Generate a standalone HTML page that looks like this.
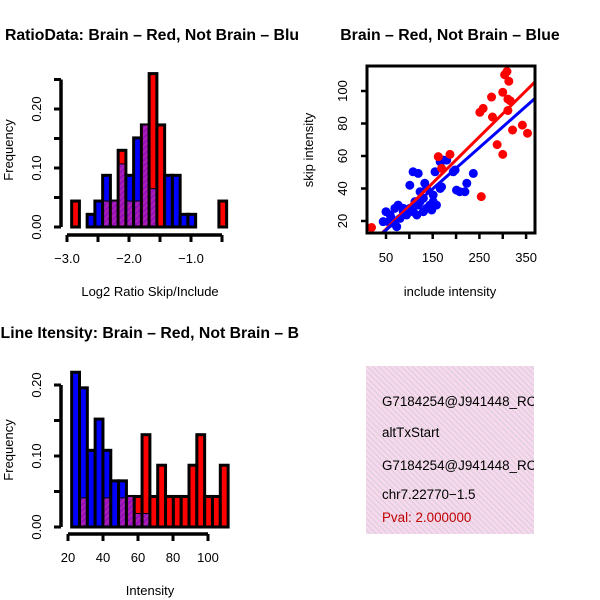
<!DOCTYPE html>
<html><head><meta charset="utf-8"><style>
html,body{margin:0;padding:0;background:#fff;}
svg{display:block;font-family:"Liberation Sans",sans-serif;}
</style></head><body>
<svg id="chart" width="600" height="600" viewBox="0 0 600 600">
<defs>
<pattern id="purp" patternUnits="userSpaceOnUse" width="4" height="4" patternTransform="rotate(45)">
<rect width="4" height="4" fill="#9010c0"/><rect width="2" height="4" fill="#b020b0"/>
</pattern>
<pattern id="pink" patternUnits="userSpaceOnUse" width="4" height="4" patternTransform="rotate(-45)">
<rect width="4" height="4" fill="#f7d8f0"/><rect width="1" height="4" fill="#d8d0d0"/>
</pattern>
<clipPath id="clipL"><rect x="0" y="0" width="300" height="600"/></clipPath>
<clipPath id="clipSc"><rect x="367" y="67" width="168" height="166"/></clipPath>
<clipPath id="clipTxt"><rect x="366" y="366" width="168" height="170"/></clipPath>
</defs>
<g id="h1"></g>
<g id="h2"></g>
<g id="sc"></g>
<g>
<rect x="366" y="366" width="168" height="168" fill="url(#pink)"/>
<g clip-path="url(#clipTxt)" font-size="13.4">
<text x="382" y="406">G7184254@J941448_RC</text>
<text x="382" y="437">altTxStart</text>
<text x="382" y="470">G7184254@J941448_RC</text>
<text x="382" y="499">chr7.22770−1.5</text>
<text x="382" y="522" fill="#c00000">Pval: 2.000000</text>
</g></g>
<g clip-path="url(#clipL)" font-weight="bold" font-size="15.8">
<text x="299" y="40" text-anchor="end">Log2 RatioData: Brain – Red, Not Brain – Blu</text>
<text x="299" y="338" text-anchor="end">Exon Line Itensity: Brain – Red, Not Brain – B</text>
</g>
<text x="450" y="40" text-anchor="middle" font-weight="bold" font-size="15.8">Brain – Red, Not Brain – Blue</text>
</svg>
<script>
// ---- Histogram 1 data (log2 ratio) ----
var h1BinStart = -2.925;
var h1BinWidth = 0.125;
var h1Blue = [0,0,0.0215,0.044,0.0876,0.044,0.107,0.0876,0.151,0.173,0.065,0,0.0876,0.0876,0.0215,0.0215,0,0,0,0];
var h1Red  = [0.044,0,0,0,0.044,0.044,0.13,0.044,0.044,0.173,0.26,0.173,0,0,0,0,0,0,0,0.044];
var h1XTicks = [-3.0,-2.5,-2.0,-1.5,-1.0,-0.5];
var h1XLabels = ["−3.0","","−2.0","","−1.0",""];
var h1YTicks = [0,0.05,0.10,0.15,0.20,0.25];
var h1YLabels = ["0.00","","0.10","","0.20",""];
// ---- Histogram 2 data (intensity) ----
var h2BinStart = 22.1;
var h2BinWidth = 4.47;
var h2Blue = [0.218,0.196,0.108,0.152,0.108,0.065,0.065,0.043,0.019,0.019,0,0,0,0,0,0,0,0,0,0];
var h2Red  = [0,0.041,0,0,0.041,0,0.041,0.043,0.043,0.13,0.043,0.087,0.043,0.043,0.043,0.087,0.13,0.043,0.043,0.087];
var h2XTicks = [20,40,60,80,100];
var h2YTicks = [0,0.05,0.10,0.15,0.20];
var h2YLabels = ["0.00","","0.10","","0.20"];
// ---- Scatter data ----
var redX = [19,162,187,169,251,258,278,276,304,309,300,313,311,316,311,321,342,353,288,300,254];
var redY = [16,59.6,61,52.4,86.9,89.3,84,96.3,110,112,99.2,106,95,94,88,76,79,74,67,61,35];
var blueX = [44,50,59,69,76,80,87,94,101,108,116,119,130,137,151,158,101,108,119,123,130,137,144,148,151,155,166,173,180,166,169,194,198,201,208,219,223,237,87,62,66,73,55,112,123,133];
var blueY = [19.6,25.7,23.7,27.8,29.8,21.6,25.7,23.7,27.8,25.7,23.7,29.8,25.7,27.8,31.9,29.8,42,50.3,49.3,31.9,34,40,29.8,26.8,36,50.3,56.5,57.5,57.5,40,41,50.3,51.4,39,38,38,43.2,49.3,27.8,21.6,18.6,16.5,19.6,31.9,38,43.2];
var redFit = [0.8, 0.284];
var blueFit = [1.7, 0.254];
var scXTicks = [50,150,250,350];
var scXMinor = [100,200,300];
var scYTicks = [20,40,60,80,100];

var NS="http://www.w3.org/2000/svg";
function mk(parent,tag,attrs){var e=document.createElementNS(NS,tag);for(var k in attrs)e.setAttribute(k,attrs[k]);parent.appendChild(e);return e;}

function histogram(g, cfg){
  var xs=cfg.xs, ys=cfg.ys;
  for(var i=0;i<cfg.blue.length;i++){
    var x0=xs(cfg.start+i*cfg.width), x1=xs(cfg.start+(i+1)*cfg.width);
    var b=cfg.blue[i], r=cfg.red[i];
    var mx=Math.max(b,r), mn=Math.min(b,r);
    if(mx<=0) continue;
    var topCol = b>r ? "#0000ff" : "#ff0000";
    var bar=mk(g,"rect",{x:x0,y:ys(mx),width:x1-x0,height:ys(0)-ys(mx),fill:topCol,stroke:"#000","stroke-width":3});
    
    
    if(mn>0){
      var ov=mk(g,"rect",{x:x0+1.5,y:ys(mn),width:x1-x0-3,height:ys(0)-ys(mn)-1.5,fill:"url(#purp)"});
      
      
      mk(g,"line",{x1:x0,x2:x1,y1:ys(mn),y2:ys(mn),stroke:"#000","stroke-width":1});
    }
  }
  var ya=mk(g,"line",{x1:cfg.yAxisX,x2:cfg.yAxisX,y1:ys(cfg.yTicks[0]),y2:ys(cfg.yTicks[cfg.yTicks.length-1]),stroke:"#000","stroke-width":3.5});
  
  
  cfg.yTicks.forEach(function(t,i){
    var y=ys(t);
    mk(g,"line",{x1:cfg.yAxisX-7,x2:cfg.yAxisX,y1:y,y2:y,stroke:"#000","stroke-width":3});
    if(cfg.yLabels[i]){
      var tx=mk(g,"text",{x:cfg.yAxisX-20,y:y,"font-size":13,"text-anchor":"middle",transform:"rotate(-90 "+(cfg.yAxisX-20)+" "+y+")"});
      tx.textContent=cfg.yLabels[i];
      
      
    }
  });
  var xa=mk(g,"line",{x1:xs(cfg.xTicks[0]),x2:xs(cfg.xTicks[cfg.xTicks.length-1]),y1:cfg.xAxisY,y2:cfg.xAxisY,stroke:"#000","stroke-width":3.5});
  
  
  cfg.xTicks.forEach(function(t,i){
    var x=xs(t);
    mk(g,"line",{x1:x,x2:x,y1:cfg.xAxisY,y2:cfg.xAxisY+7,stroke:"#000","stroke-width":3});
    if(cfg.xLabels[i]){
      var tx=mk(g,"text",{x:x,y:cfg.xAxisY+28,"font-size":13,"text-anchor":"middle"});
      tx.textContent=cfg.xLabels[i];
      
      
    }
  });
  var xl=mk(g,"text",{x:150,y:cfg.xAxisY+61,"font-size":13,"text-anchor":"middle"});
  xl.textContent=cfg.xTitle;
  
  
  var cy=cfg.yMid;
  var yl=mk(g,"text",{x:13,y:cy,"font-size":13,"text-anchor":"middle",transform:"rotate(-90 13 "+cy+")"});
  yl.textContent="Frequency";
  
  
}

histogram(document.getElementById("h1"),{
  xs:function(v){return 67+(v+3)*62;}, ys:function(v){return 227-v*590;},
  start:h1BinStart,width:h1BinWidth,blue:h1Blue,red:h1Red,
  xTicks:h1XTicks,xLabels:h1XLabels,yTicks:h1YTicks,yLabels:h1YLabels,
  yAxisX:61,xAxisY:235,xTitle:"Log2 Ratio Skip/Include",yMid:150
});
histogram(document.getElementById("h2"),{
  xs:function(v){return 68+(v-20)*1.75;}, ys:function(v){return 527-v*710;},
  start:h2BinStart,width:h2BinWidth,blue:h2Blue,red:h2Red,
  xTicks:h2XTicks,xLabels:h2XTicks.map(String),yTicks:h2YTicks,yLabels:h2YLabels,
  yAxisX:61,xAxisY:534,xTitle:"Intensity",yMid:450
});

(function(){
  var g=document.getElementById("sc");
  function sx(v){return 386+(v-50)*0.467;}
  function sy(v){return 221-(v-20)*1.625;}
  var inner=mk(g,"g",{"clip-path":"url(#clipSc)"});
  for(var i=0;i<blueX.length;i++){
    var c=mk(inner,"circle",{cx:sx(blueX[i]),cy:sy(blueY[i]),r:4.5,fill:"#0000ff"});
    
    
  }
  for(var j=0;j<redX.length;j++){
    var c2=mk(inner,"circle",{cx:sx(redX[j]),cy:sy(redY[j]),r:4.5,fill:"#ff0000"});
    
    
  }
  var x0=0,x1=400;
  var rl=mk(inner,"line",{x1:sx(x0),y1:sy(redFit[0]+redFit[1]*x0),x2:sx(x1),y2:sy(redFit[0]+redFit[1]*x1),stroke:"#ff0000","stroke-width":3});
  
  
  var bl=mk(inner,"line",{x1:sx(x0),y1:sy(blueFit[0]+blueFit[1]*x0),x2:sx(x1),y2:sy(blueFit[0]+blueFit[1]*x1),stroke:"#0000ff","stroke-width":3});
  
  
  var box=mk(g,"rect",{x:367,y:66,width:168,height:167,fill:"none",stroke:"#000","stroke-width":3});
  
  
  scXTicks.concat(scXMinor).forEach(function(t){
    mk(g,"line",{x1:sx(t),x2:sx(t),y1:233,y2:239,stroke:"#000","stroke-width":2.5});
  });
  scXTicks.forEach(function(t){
    var tx=mk(g,"text",{x:sx(t),y:262,"font-size":13,"text-anchor":"middle"});
    tx.textContent=String(t);
    
    
  });
  scYTicks.forEach(function(t){
    var y=sy(t);
    mk(g,"line",{x1:361,x2:367,y1:y,y2:y,stroke:"#000","stroke-width":2.5});
    var tx=mk(g,"text",{x:347,y:y,"font-size":13,"text-anchor":"middle",transform:"rotate(-90 347 "+y+")"});
    tx.textContent=String(t);
    
    
  });
  var xl=mk(g,"text",{x:450,y:296,"font-size":13,"text-anchor":"middle"});
  xl.textContent="include intensity";
  
  
  var yl=mk(g,"text",{x:313,y:150,"font-size":13,"text-anchor":"middle",transform:"rotate(-90 313 150)"});
  yl.textContent="skip intensity";
  
  
})();
</script>
</body></html>
